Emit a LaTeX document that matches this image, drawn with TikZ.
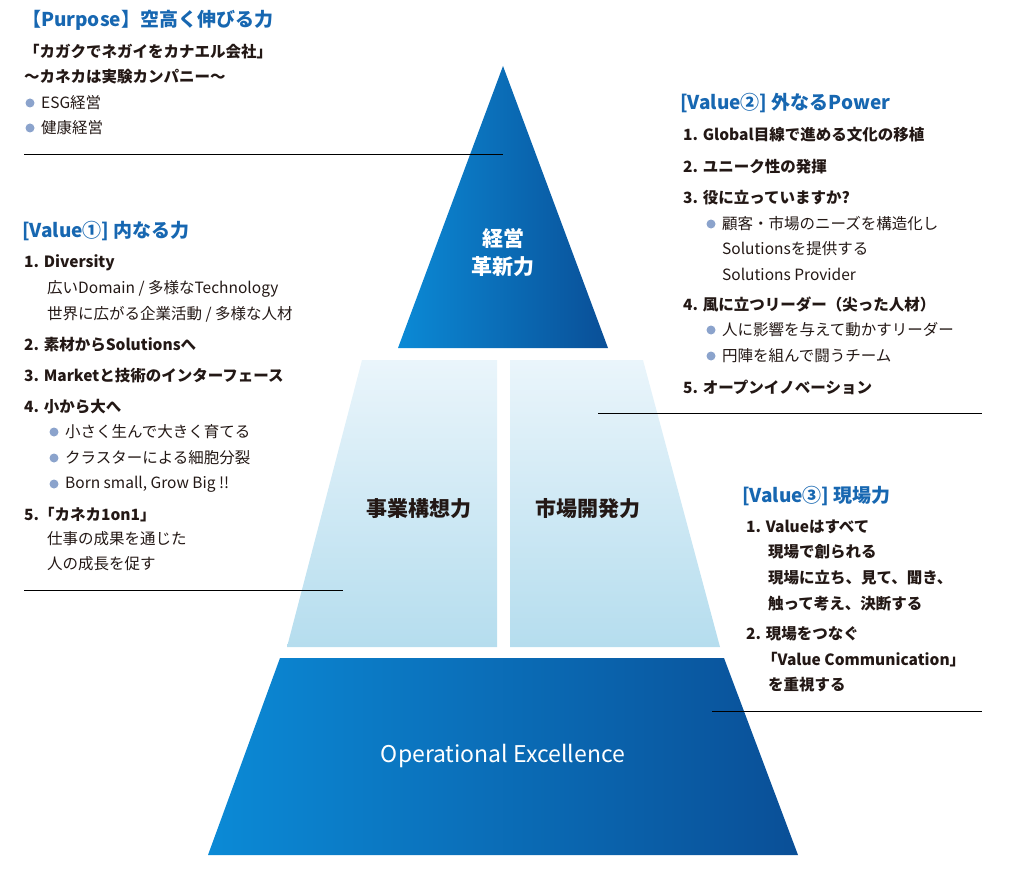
\documentclass[tikz,border=0pt]{standalone}
\usepackage{fontspec}
\setmainfont{Noto Sans CJK JP}
\definecolor{ttl}{HTML}{1767B1}
\definecolor{txt}{HTML}{231815}
\definecolor{bul}{HTML}{8BA3CC}
\definecolor{bA}{HTML}{0B8AD6}
\definecolor{bB}{HTML}{0A4F97}
\definecolor{lA}{HTML}{EAF5FB}
\definecolor{lB}{HTML}{B5DDEE}
\begin{document}
\begin{tikzpicture}[x=1pt,y=-1pt,
 ttlS/.style={anchor=west,inner sep=0pt,text=ttl,font=\fontsize{19}{21}\selectfont\bfseries},
 bS/.style={anchor=west,inner sep=0pt,text=txt,font=\fontsize{15.5}{18}\selectfont\bfseries},
 rS/.style={anchor=west,inner sep=0pt,text=txt,font=\fontsize{15.5}{18}\selectfont},
 dotS/.style={circle,fill=bul,inner sep=0pt,minimum size=9pt},
 lnS/.style={draw=black,line width=0.8pt},
 wS/.style={text=white,font=\fontsize{21}{24}\selectfont\bfseries,align=center},
 dS/.style={text=txt,font=\fontsize{21}{24}\selectfont\bfseries}]
\useasboundingbox (0,0) rectangle (1014,869);
% pyramid
\shade[left color=bA,right color=bB] (503,66) -- (608,348) -- (398,348) -- cycle;
\shade[top color=lA,bottom color=lB] (362,360) -- (497,360) -- (497,647) -- (287,647) -- cycle;
\shade[top color=lA,bottom color=lB] (510,360) -- (643,360) -- (720,647) -- (510,647) -- cycle;
\shade[left color=bA,right color=bB] (280,658) -- (724,658) -- (798,855) -- (208,855) -- cycle;
\node[wS] (top) at (503,253) {経営\\[4pt]革新力};
\node[dS] (ml) at (419,509) {事業構想力};
\node[dS] (mr) at (588,509) {市場開発力};
\node[wS,font=\fontsize{23}{26}\selectfont] (bot) at (503,756) {Operational Excellence};
% lines
\coordinate (l1a) at (24,154); \coordinate (l1b) at (503,154);
\coordinate (l2a) at (24,590); \coordinate (l2b) at (343,590);
\coordinate (l3a) at (598,413); \coordinate (l3b) at (982,413);
\coordinate (l4a) at (712,711); \coordinate (l4b) at (982,711);
\draw[lnS] (l1a)--(l1b); \draw[lnS] (l2a)--(l2b); \draw[lnS] (l3a)--(l3b); \draw[lnS] (l4a)--(l4b);
% Purpose
\node[ttlS] (p0) at (22,20) {【Purpose】空高く伸びる力};
\node[bS] (p1) at (24,52) {「カガクでネガイをカナエル会社」};
\node[bS] (p2) at (24,77) {〜カネカは実験カンパニー〜};
\node[dotS] (pd1) at (30,103) {}; \node[rS] (p3) at (41,103) {ESG経営};
\node[dotS] (pd2) at (30,128) {}; \node[rS] (p4) at (41,128) {健康経営};
% Value1
\node[ttlS] (a0) at (22,231) {[Value①] 内なる力};
\node[bS] (a1) at (24,263) {1. Diversity};
\node[rS] (a2) at (47,289) {広いDomain / 多様なTechnology};
\node[rS] (a3) at (47,314) {世界に広がる企業活動 / 多様な人材};
\node[bS] (a4) at (24,345) {2. 素材からSolutionsへ};
\node[bS] (a5) at (24,376) {3. Marketと技術のインターフェース};
\node[bS] (a6) at (24,407) {4. 小から大へ};
\node[dotS] (ad1) at (54,432) {}; \node[rS] (a7) at (65,432) {小さく生んで大きく育てる};
\node[dotS] (ad2) at (54,458) {}; \node[rS] (a8) at (65,458) {クラスターによる細胞分裂};
\node[dotS] (ad3) at (54,484) {}; \node[rS] (a9) at (65,484) {Born small, Grow Big !!};
\node[bS] (a10) at (24,515) {5.「カネカ1on1」};
\node[rS] (a11) at (47,539) {仕事の成果を通じた};
\node[rS] (a12) at (47,564) {人の成長を促す};
% Value2
\node[ttlS] (b0) at (680,103) {[Value②] 外なるPower};
\node[bS] (b1) at (683,135) {1. Global目線で進める文化の移植};
\node[bS] (b2) at (683,167) {2. ユニーク性の発揮};
\node[bS] (b3) at (683,198) {3. 役に立っていますか?};
\node[dotS] (bd1) at (711,224) {}; \node[rS] (b4) at (722,224) {顧客・市場のニーズを構造化し};
\node[rS] (b5) at (722,249) {Solutionsを提供する};
\node[rS] (b6) at (722,274) {Solutions Provider};
\node[bS] (b7) at (683,304) {4. 風に立つリーダー（尖った人材）};
\node[dotS] (bd2) at (711,330) {}; \node[rS] (b8) at (722,330) {人に影響を与えて動かすリーダー};
\node[dotS] (bd3) at (711,356) {}; \node[rS] (b9) at (722,356) {円陣を組んで闘うチーム};
\node[bS] (b10) at (683,387) {5. オープンイノベーション};
% Value3
\node[ttlS] (c0) at (742,496) {[Value③] 現場力};
\node[bS] (c1) at (746,527) {1. Valueはすべて};
\node[bS] (c2) at (768,552) {現場で創られる};
\node[bS] (c3) at (768,578) {現場に立ち、見て、聞き、};
\node[bS] (c4) at (768,604) {触って考え、決断する};
\node[bS] (c5) at (746,634) {2. 現場をつなぐ};
\node[bS] (c6) at (762,660) {「Value Communication」};
\node[bS] (c7) at (768,685) {を重視する};
\end{tikzpicture}
\end{document}
